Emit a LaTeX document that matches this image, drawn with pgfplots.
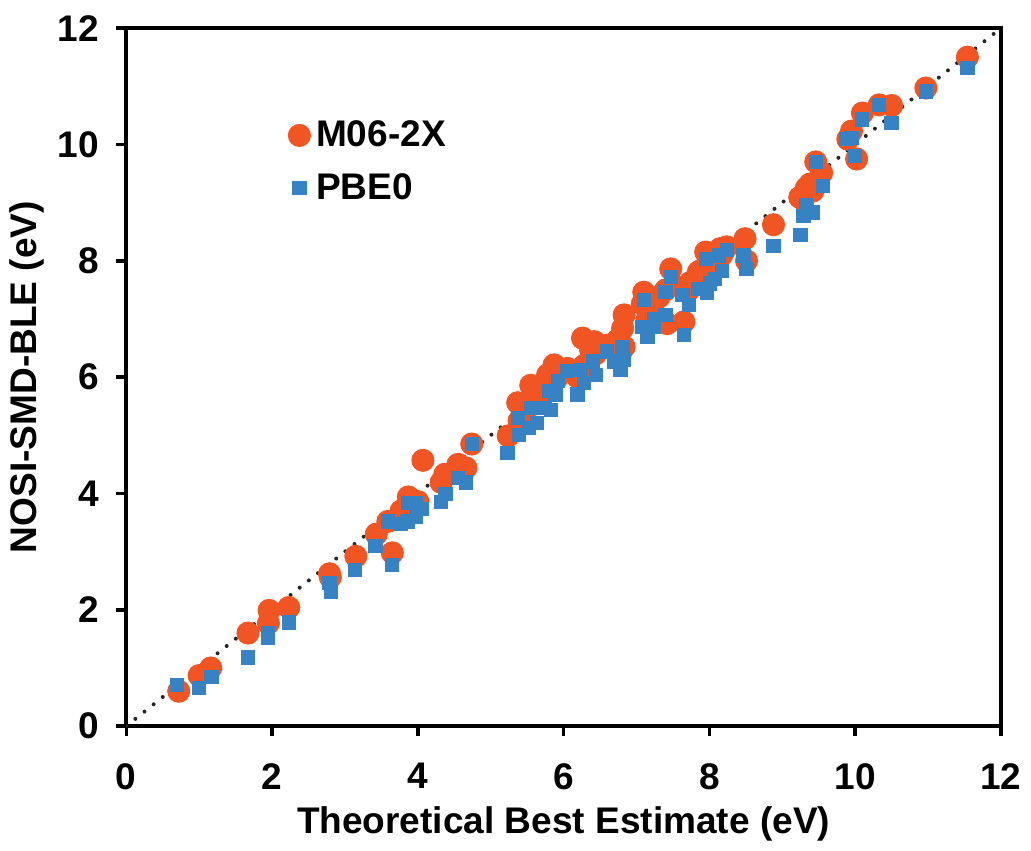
\documentclass[border=0pt]{standalone}
\usepackage{fontspec}
\setmainfont{Liberation Sans}
\usepackage{pgfplots}
\pgfplotsset{compat=1.18}
\definecolor{mOrange}{RGB}{240,85,35}
\definecolor{pBlue}{RGB}{55,130,195}
\begin{document}
\begin{tikzpicture}
\begin{axis}[
  scale only axis, width=307pt, height=245pt,
  xmin=0, xmax=12, ymin=0, ymax=12,
  xtick={0,2,...,12}, ytick={0,2,...,12},
  axis line style={line width=1.4pt},
  tick style={line width=1.2pt, black},
  tick align=outside, major tick length=3.5pt,
  xtick pos=bottom, ytick pos=left,
  /pgf/number format/assume math mode=true,
  tick label style={font=\fontsize{13}{15}\selectfont\bfseries},
  yticklabel style={xshift=-2.5pt},
  xticklabel style={yshift=-6pt},
  xlabel={Theoretical Best Estimate (eV)},
  ylabel={NOSI-SMD-BLE (eV)},
  label style={font=\fontsize{13}{15}\selectfont\bfseries},
  ylabel style={yshift=-2pt},
  xlabel style={yshift=1pt},
  legend style={draw=none, fill=none, at={(0.175,0.885)}, anchor=north west,
    font=\fontsize{13}{15}\selectfont\bfseries, row sep=4pt},
  legend cell align=left,
]
\addplot[black!85, line width=1.4pt, line cap=round, dash pattern=on 0pt off 4.1pt, forget plot] coordinates {(0,0) (12,12)};
\addplot[only marks, mark=*, mark size=3.85pt, mark options={fill=mOrange, draw=mOrange}] coordinates {
(0.72,0.60) (1.00,0.87) (1.16,1.00) (1.67,1.60) (1.96,1.99) (1.95,1.77) (2.23,2.04)
(2.79,2.62) (2.80,2.56) (3.15,2.92) (3.43,3.30) (3.59,3.52) (3.65,2.98) (3.77,3.70)
(3.87,3.94) (4.00,3.86) (4.07,4.57) (4.32,4.19) (4.37,4.33) (4.55,4.50) (4.66,4.44)
(4.74,4.85) (5.24,4.99) (5.37,5.56) (5.39,5.25) (5.53,5.50) (5.55,5.86) (5.64,5.55)
(5.74,5.75) (5.78,6.04) (5.83,5.85) (5.87,6.21) (5.92,6.00) (6.05,6.15) (6.19,6.00)
(6.26,6.67) (6.28,6.20) (6.37,6.47) (6.42,6.61) (6.44,6.40) (6.60,6.55) (6.69,6.50)
(6.74,6.64) (6.78,6.40) (6.81,6.84) (6.83,7.07) (6.83,6.52) (7.10,7.46) (7.08,7.26)
(7.15,7.00) (7.24,7.10) (7.31,7.38) (7.40,7.50) (7.42,6.92) (7.47,7.86) (7.65,6.95)
(7.63,7.55) (7.72,7.50) (7.74,7.63) (7.85,7.81) (7.88,7.83) (7.97,7.65) (7.95,8.15)
(8.01,7.85) (8.08,7.95) (8.15,8.21) (8.17,8.10) (8.24,8.24) (8.49,8.38) (8.51,8.00)
(8.88,8.62) (9.24,9.09) (9.29,9.05) (9.33,9.25) (9.38,9.32) (9.42,9.20) (9.54,9.51)
(9.46,9.70) (9.90,10.09) (9.95,10.23) (10.02,9.75) (10.10,10.54) (10.33,10.68)
(10.50,10.67) (10.97,10.97) (11.54,11.50)
};
\addlegendentry{M06-2X}
\addplot[only marks, mark=square*, mark size=2.3pt, mark options={fill=pBlue, draw=pBlue}] coordinates {
(0.70,0.71) (1.00,0.66) (1.17,0.85) (1.67,1.18) (1.95,1.60) (1.95,1.51) (2.23,1.78)
(2.79,2.46) (2.81,2.31) (3.14,2.69) (3.42,3.10) (3.59,3.52) (3.65,2.77) (3.77,3.48)
(3.86,3.52) (3.87,3.83) (3.98,3.83) (3.98,3.60) (4.05,3.73) (4.32,3.85) (4.38,3.99)
(4.55,4.27) (4.66,4.19) (4.74,4.85) (5.23,4.70) (5.37,5.30) (5.39,5.01) (5.53,5.13)
(5.55,5.47) (5.64,5.21) (5.74,5.47) (5.83,5.44) (5.80,5.76) (5.89,5.70) (5.92,5.93)
(6.05,6.10) (6.19,5.70) (6.24,6.12) (6.28,5.90) (6.40,6.27) (6.44,6.04) (6.60,6.44)
(6.69,6.27) (6.78,6.12) (6.81,6.52) (6.83,6.30) (7.08,6.86) (7.10,7.32) (7.15,6.70)
(7.24,7.00) (7.24,6.86) (7.40,7.07) (7.40,7.46) (7.47,7.72) (7.63,7.41) (7.65,6.72)
(7.72,7.24) (7.85,7.52) (7.97,7.44) (8.01,7.61) (7.95,8.03) (8.08,7.69) (8.13,8.09)
(8.17,7.83) (8.24,8.18) (8.47,8.09) (8.51,7.86) (8.88,8.26) (9.25,8.44) (9.29,8.77)
(9.33,8.95) (9.42,8.83) (9.56,9.28) (9.46,9.70) (9.88,10.09) (9.95,10.11) (10.00,9.80)
(10.09,10.43) (10.33,10.68) (10.50,10.37) (10.97,10.91) (11.54,11.31)
};
\addlegendentry{PBE0}
\end{axis}
\path ([yshift=2pt]current bounding box.north) coordinate (topextra);
\end{tikzpicture}
\end{document}
